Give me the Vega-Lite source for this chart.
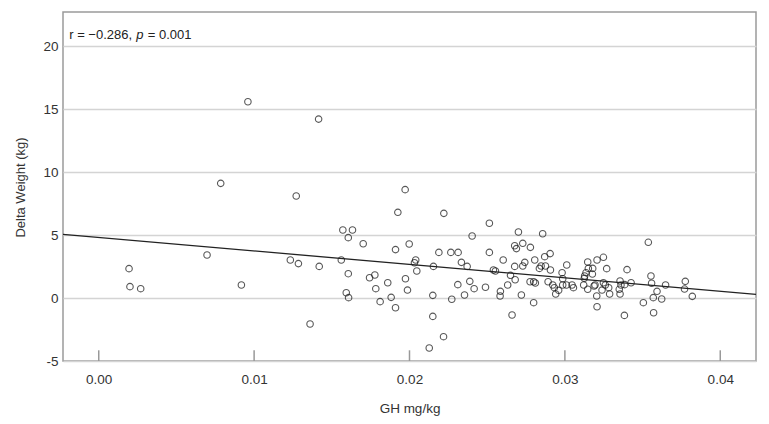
{
  "$schema": "https://vega.github.io/schema/vega-lite/v6.json",
  "width": 693,
  "height": 349,
  "autosize": "none",
  "padding": {"left": 63, "top": 12, "right": 13, "bottom": 63},
  "background": "white",
  "config": {
    "view": {"stroke": "#9a9a9a", "strokeWidth": 1.5},
    "font": "Liberation Sans",
    "axis": {"labelFont": "Liberation Sans", "titleFont": "Liberation Sans", "labelColor": "#333", "titleColor": "#333", "titleFontWeight": "normal"}
  },
  "datasets": {
    "points": [
      {"gh": 0.00195, "dw": 2.33}, {"gh": 0.00201, "dw": 0.90}, {"gh": 0.0027, "dw": 0.74}, {"gh": 0.00697, "dw": 3.41},
      {"gh": 0.00785, "dw": 9.10}, {"gh": 0.00918, "dw": 1.03}, {"gh": 0.0096, "dw": 15.58}, {"gh": 0.01233, "dw": 3.02},
      {"gh": 0.01271, "dw": 8.10}, {"gh": 0.01285, "dw": 2.73}, {"gh": 0.0136, "dw": -2.06}, {"gh": 0.01415, "dw": 14.2},
      {"gh": 0.01419, "dw": 2.51}, {"gh": 0.01561, "dw": 3.02}, {"gh": 0.01571, "dw": 5.40}, {"gh": 0.01593, "dw": 0.42},
      {"gh": 0.01606, "dw": 4.79}, {"gh": 0.01606, "dw": 1.93}, {"gh": 0.01608, "dw": 0.03}, {"gh": 0.01633, "dw": 5.40},
      {"gh": 0.01702, "dw": 4.31}, {"gh": 0.01743, "dw": 1.61}, {"gh": 0.01777, "dw": 1.83}, {"gh": 0.01783, "dw": 0.74},
      {"gh": 0.01811, "dw": -0.29}, {"gh": 0.0186, "dw": 1.21}, {"gh": 0.01882, "dw": 0.05}, {"gh": 0.0191, "dw": 3.84},
      {"gh": 0.0191, "dw": -0.77}, {"gh": 0.01925, "dw": 6.80}, {"gh": 0.01972, "dw": 8.60}, {"gh": 0.01974, "dw": 1.53},
      {"gh": 0.01987, "dw": 0.63}, {"gh": 0.01998, "dw": 4.29}, {"gh": 0.0204, "dw": 3.02}, {"gh": 0.02032, "dw": 2.80},
      {"gh": 0.02047, "dw": 2.14}, {"gh": 0.02127, "dw": -3.97}, {"gh": 0.0215, "dw": 0.21}, {"gh": 0.0215, "dw": -1.46},
      {"gh": 0.02154, "dw": 2.51}, {"gh": 0.02189, "dw": 3.62}, {"gh": 0.02219, "dw": -3.07}, {"gh": 0.02221, "dw": 6.72},
      {"gh": 0.02266, "dw": 3.62}, {"gh": 0.02272, "dw": -0.10}, {"gh": 0.02313, "dw": 3.62}, {"gh": 0.02311, "dw": 1.06},
      {"gh": 0.02334, "dw": 2.83}, {"gh": 0.02354, "dw": 0.24}, {"gh": 0.02371, "dw": 2.51}, {"gh": 0.02388, "dw": 1.32},
      {"gh": 0.02403, "dw": 4.92}, {"gh": 0.02416, "dw": 0.74}, {"gh": 0.02489, "dw": 0.85}, {"gh": 0.02514, "dw": 5.93},
      {"gh": 0.02514, "dw": 3.62}, {"gh": 0.0254, "dw": 2.22}, {"gh": 0.02553, "dw": 2.14}, {"gh": 0.02583, "dw": 0.16},
      {"gh": 0.02585, "dw": 0.53}, {"gh": 0.02603, "dw": 3.02}, {"gh": 0.02632, "dw": 1.03}, {"gh": 0.0265, "dw": 1.80},
      {"gh": 0.0266, "dw": -1.35}, {"gh": 0.02677, "dw": 4.15}, {"gh": 0.02677, "dw": 2.51}, {"gh": 0.0268, "dw": 1.45},
      {"gh": 0.02688, "dw": 3.92}, {"gh": 0.02701, "dw": 5.24}, {"gh": 0.0272, "dw": 0.24}, {"gh": 0.02729, "dw": 4.34},
      {"gh": 0.02729, "dw": 2.54}, {"gh": 0.02742, "dw": 2.83}, {"gh": 0.02776, "dw": 1.29}, {"gh": 0.02778, "dw": 4.02},
      {"gh": 0.02799, "dw": 1.29}, {"gh": 0.02799, "dw": -0.37}, {"gh": 0.02806, "dw": 3.02}, {"gh": 0.0281, "dw": 1.19},
      {"gh": 0.02836, "dw": 2.35}, {"gh": 0.02847, "dw": 2.54}, {"gh": 0.02857, "dw": 5.10}, {"gh": 0.0287, "dw": 3.28},
      {"gh": 0.02875, "dw": 2.54}, {"gh": 0.02892, "dw": 1.29}, {"gh": 0.02905, "dw": 3.52}, {"gh": 0.02907, "dw": 2.22},
      {"gh": 0.02922, "dw": 1.03}, {"gh": 0.02932, "dw": 0.82}, {"gh": 0.02941, "dw": 0.32}, {"gh": 0.0296, "dw": 0.61},
      {"gh": 0.02982, "dw": 2.01}, {"gh": 0.02986, "dw": 1.53}, {"gh": 0.02986, "dw": 1.03}, {"gh": 0.03012, "dw": 2.62},
      {"gh": 0.0301, "dw": 1.03}, {"gh": 0.03046, "dw": 1.03}, {"gh": 0.03055, "dw": 0.82}, {"gh": 0.03121, "dw": 1.03},
      {"gh": 0.03125, "dw": 1.56}, {"gh": 0.03127, "dw": 1.75}, {"gh": 0.03136, "dw": 2.01}, {"gh": 0.03147, "dw": 2.86},
      {"gh": 0.03147, "dw": 0.69}, {"gh": 0.03151, "dw": 2.35}, {"gh": 0.03177, "dw": 1.90}, {"gh": 0.03179, "dw": 2.35},
      {"gh": 0.03188, "dw": 0.95}, {"gh": 0.03194, "dw": 1.03}, {"gh": 0.03205, "dw": 0.16}, {"gh": 0.03207, "dw": -0.69},
      {"gh": 0.03207, "dw": 3.02}, {"gh": 0.03248, "dw": 3.23}, {"gh": 0.03239, "dw": 0.63}, {"gh": 0.03248, "dw": 1.21},
      {"gh": 0.0326, "dw": 1.03}, {"gh": 0.03269, "dw": 2.33}, {"gh": 0.03282, "dw": 0.82}, {"gh": 0.03288, "dw": 0.32},
      {"gh": 0.0335, "dw": 0.69}, {"gh": 0.03355, "dw": 1.35}, {"gh": 0.03361, "dw": 1.03}, {"gh": 0.03355, "dw": 0.32},
      {"gh": 0.03383, "dw": -1.38}, {"gh": 0.03385, "dw": 1.06}, {"gh": 0.034, "dw": 2.25}, {"gh": 0.03426, "dw": 1.21},
      {"gh": 0.03505, "dw": -0.37}, {"gh": 0.03537, "dw": 4.42}, {"gh": 0.03554, "dw": 1.75}, {"gh": 0.03558, "dw": 1.17},
      {"gh": 0.03569, "dw": 0.03}, {"gh": 0.03571, "dw": -1.17}, {"gh": 0.03593, "dw": 0.53}, {"gh": 0.03623, "dw": -0.08},
      {"gh": 0.03648, "dw": 1.03}, {"gh": 0.0377, "dw": 0.71}, {"gh": 0.03775, "dw": 1.32}, {"gh": 0.0382, "dw": 0.13}
    ],
    "fit": [
      {"gh": -0.0023, "dw": 5.05},
      {"gh": 0.0423, "dw": 0.29}
    ],
    "ticks": [
      {"gh": 0.0}, {"gh": 0.01}, {"gh": 0.02}, {"gh": 0.03}, {"gh": 0.04}
    ],
    "note": [
      {"gh": -0.0019, "dw": 20.55}
    ]
  },
  "layer": [
    {
      "data": {"name": "points"},
      "mark": {"type": "point", "shape": "circle", "filled": false, "stroke": "#111111", "strokeWidth": 1.1, "size": 42, "clip": true},
      "encoding": {
        "x": {
          "field": "gh", "type": "quantitative",
          "scale": {"domain": [-0.0023, 0.0423], "nice": false, "zero": false},
          "axis": {
            "title": "GH mg/kg", "values": [0, 0.01, 0.02, 0.03, 0.04], "format": ".2f",
            "grid": false, "domain": false, "ticks": false,
            "labelPadding": 11, "labelFontSize": 13.5, "titleFontSize": 13.5,
            "titleY": 47, "titleBaseline": "middle"
          }
        },
        "y": {
          "field": "dw", "type": "quantitative",
          "scale": {"domain": [-5, 22.7], "nice": false, "zero": false},
          "axis": {
            "title": "Delta Weight (kg)", "values": [-5, 0, 5, 10, 15, 20],
            "labelExpr": "replace(datum.label, '−', '-')",
            "grid": true, "gridColor": "#d4d4d4", "gridWidth": 1.5,
            "domain": false, "ticks": false, "labelPadding": 5, "labelFontSize": 13.5, "titleFontSize": 13,
            "titleX": -43, "titleY": 175, "titleBaseline": "middle"
          }
        }
      }
    },
    {
      "data": {"name": "ticks"},
      "mark": {"type": "rule", "color": "#999999", "strokeWidth": 1.5},
      "encoding": {
        "x": {"field": "gh", "type": "quantitative"},
        "y": {"datum": -5},
        "y2": {"datum": -4.15}
      }
    },
    {
      "data": {"name": "fit"},
      "mark": {"type": "line", "color": "#222222", "strokeWidth": 1.3, "clip": true},
      "encoding": {
        "x": {"field": "gh", "type": "quantitative"},
        "y": {"field": "dw", "type": "quantitative"}
      }
    },
    {
      "data": {"name": "note"},
      "mark": {"type": "text", "text": "r = −0.286,", "align": "left", "baseline": "alphabetic", "fontSize": 13, "color": "#222", "font": "Liberation Sans"},
      "encoding": {
        "x": {"field": "gh", "type": "quantitative"},
        "y": {"field": "dw", "type": "quantitative"}
      }
    },
    {
      "data": {"name": "note"},
      "mark": {"type": "text", "text": "p", "align": "left", "baseline": "alphabetic", "fontSize": 13, "fontStyle": "italic", "dx": 67, "color": "#222", "font": "Liberation Sans"},
      "encoding": {
        "x": {"field": "gh", "type": "quantitative"},
        "y": {"field": "dw", "type": "quantitative"}
      }
    },
    {
      "data": {"name": "note"},
      "mark": {"type": "text", "text": "= 0.001", "align": "left", "baseline": "alphabetic", "fontSize": 13, "dx": 78.5, "color": "#222", "font": "Liberation Sans"},
      "encoding": {
        "x": {"field": "gh", "type": "quantitative"},
        "y": {"field": "dw", "type": "quantitative"}
      }
    }
  ]
}
